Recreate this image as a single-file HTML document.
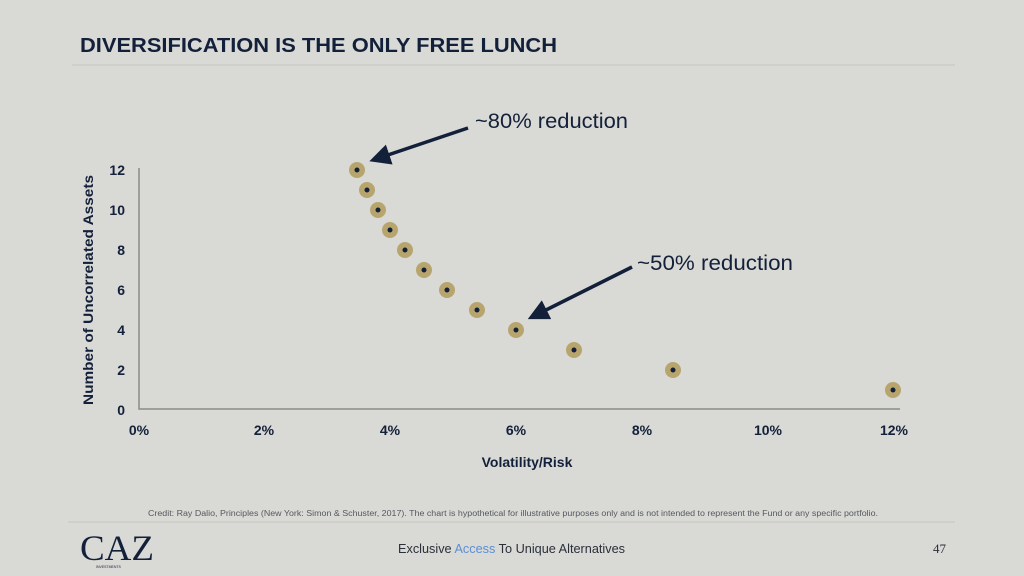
<!DOCTYPE html>
<html><head><meta charset="utf-8"><style>
body{margin:0;width:1024px;height:576px;background:#d9d9d5;overflow:hidden}
svg{display:block}
</style></head><body>
<svg width="1024" height="576" xmlns="http://www.w3.org/2000/svg" font-family="Liberation Sans, sans-serif">
<rect width="1024" height="576" fill="#d9d9d5"/>
<text x="80" y="52" font-size="20" font-weight="bold" fill="#13203a" textLength="477" lengthAdjust="spacingAndGlyphs">DIVERSIFICATION IS THE ONLY FREE LUNCH</text>
<line x1="72" y1="65" x2="955" y2="65" stroke="#c6c6c0" stroke-width="1"/>
<polyline points="139,168 139,409 900,409" fill="none" stroke="#8a8a86" stroke-width="1.5"/>
<g font-size="14" font-weight="bold" fill="#13203a" text-anchor="end">
<text x="125" y="175">12</text><text x="125" y="215">10</text><text x="125" y="255">8</text>
<text x="125" y="295">6</text><text x="125" y="335">4</text><text x="125" y="375">2</text><text x="125" y="415">0</text>
</g>
<g font-size="14" font-weight="bold" fill="#13203a" text-anchor="middle">
<text x="139" y="435">0%</text><text x="264" y="435">2%</text><text x="390" y="435">4%</text>
<text x="516" y="435">6%</text><text x="642" y="435">8%</text><text x="768" y="435">10%</text><text x="894" y="435">12%</text>
<text x="527" y="467">Volatility/Risk</text>
</g>
<text transform="translate(93,290) rotate(-90)" font-size="14" font-weight="bold" fill="#13203a" text-anchor="middle" textLength="230" lengthAdjust="spacingAndGlyphs">Number of Uncorrelated Assets</text>
<g fill="#b8a56e">
<circle cx="357" cy="170" r="8"/><circle cx="367" cy="190" r="8"/><circle cx="378" cy="210" r="8"/>
<circle cx="390" cy="230" r="8"/><circle cx="405" cy="250" r="8"/><circle cx="424" cy="270" r="8"/>
<circle cx="447" cy="290" r="8"/><circle cx="477" cy="310" r="8"/><circle cx="516" cy="330" r="8"/>
<circle cx="574" cy="350" r="8"/><circle cx="673" cy="370" r="8"/><circle cx="893" cy="390" r="8"/>
</g>
<g fill="#13203a">
<circle cx="357" cy="170" r="2.5"/><circle cx="367" cy="190" r="2.5"/><circle cx="378" cy="210" r="2.5"/>
<circle cx="390" cy="230" r="2.5"/><circle cx="405" cy="250" r="2.5"/><circle cx="424" cy="270" r="2.5"/>
<circle cx="447" cy="290" r="2.5"/><circle cx="477" cy="310" r="2.5"/><circle cx="516" cy="330" r="2.5"/>
<circle cx="574" cy="350" r="2.5"/><circle cx="673" cy="370" r="2.5"/><circle cx="893" cy="390" r="2.5"/>
</g>
<defs><marker id="a" markerWidth="6" markerHeight="6" refX="4" refY="3" orient="auto"><path d="M0,0 L6,3 L0,6 z" fill="#13203a"/></marker></defs>
<line x1="468" y1="128" x2="376" y2="159" stroke="#13203a" stroke-width="3.5" marker-end="url(#a)"/>
<line x1="632" y1="267" x2="534" y2="316" stroke="#13203a" stroke-width="3.5" marker-end="url(#a)"/>
<text x="475" y="128" font-size="21" fill="#13203a" textLength="153" lengthAdjust="spacingAndGlyphs">~80% reduction</text>
<text x="637" y="270" font-size="21" fill="#13203a" textLength="156" lengthAdjust="spacingAndGlyphs">~50% reduction</text>
<text x="513" y="516" font-size="8" fill="#55595e" text-anchor="middle" textLength="730" lengthAdjust="spacingAndGlyphs">Credit: Ray Dalio, Principles (New York: Simon &amp; Schuster, 2017). The chart is hypothetical for illustrative purposes only and is not intended to represent the Fund or any specific portfolio.</text>
<line x1="68" y1="522" x2="955" y2="522" stroke="#c6c6c0" stroke-width="1"/>
<text x="80" y="560" font-size="36" font-family="Liberation Serif, serif" fill="#13203a" textLength="74" lengthAdjust="spacingAndGlyphs">CAZ</text>
<text x="96" y="568" font-size="3.5" fill="#13203a">INVESTMENTS</text>
<text x="398" y="553" font-size="13" fill="#2a2f3a" textLength="227" lengthAdjust="spacingAndGlyphs">Exclusive <tspan fill="#5b8fd6">Access</tspan> To Unique Alternatives</text>
<text x="946" y="553" font-size="13" font-family="Liberation Serif, serif" fill="#2a2f3a" text-anchor="end">47</text>
</svg>
</body></html>
